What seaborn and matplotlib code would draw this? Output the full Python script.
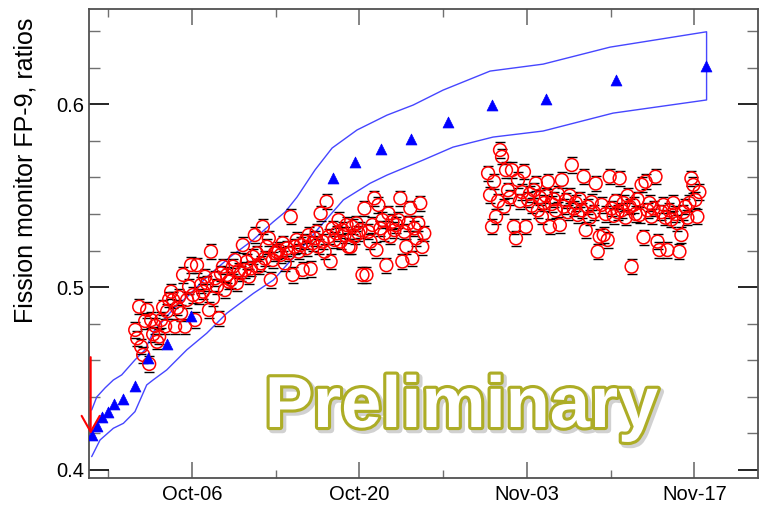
import numpy as np
import pandas as pd
import matplotlib
matplotlib.use("Agg")
import matplotlib.pyplot as plt
import matplotlib.dates as mdates
import matplotlib.patheffects as pe
from matplotlib.patches import ArrowStyle
import seaborn as sns

sns.set_style("white")
plt.rcParams["font.family"] = ["Liberation Sans", "DejaVu Sans"]
plt.rcParams["text.color"] = "black"
plt.rcParams["xtick.labelcolor"] = "black"
plt.rcParams["ytick.labelcolor"] = "black"

REF_DAY = pd.Timestamp("2012-10-06")

# Measured FP-9 ratios, one value every 4 hours
run1_start = "2012-10-01 06:00"
run1_ratio = [
    0.4766, 0.4720, 0.4893, 0.4674, 0.4629, 0.4815,
    0.4875, 0.4580, 0.4820, 0.4742, 0.4788, 0.4701,
    0.4729, 0.4820, 0.4890, 0.4785, 0.4868, 0.4932,
    0.4975, 0.4930, 0.4784, 0.4887, 0.4946, 0.4858,
    0.5067, 0.4784, 0.4930, 0.5003, 0.5121, 0.4957,
    0.4820, 0.5120, 0.4948, 0.5012, 0.4975, 0.5057,
    0.5021, 0.4875, 0.5194, 0.4939, 0.5048, 0.5003,
    0.4830, 0.5075, 0.5112, 0.4984, 0.5066, 0.5030,
    0.5039, 0.5112, 0.5148, 0.5021, 0.5090, 0.5075,
    0.5230, 0.5094, 0.5139, 0.5057, 0.5102, 0.5166,
    0.5285, 0.5185, 0.5112, 0.5130, 0.5330, 0.5157,
    0.5221, 0.5267, 0.5040, 0.5148, 0.5185, 0.5194,
    0.5203, 0.5176, 0.5240, 0.5130, 0.5212, 0.5185,
    0.5385, 0.5067, 0.5221, 0.5258, 0.5194, 0.5230,
    0.5094, 0.5249, 0.5212, 0.5285, 0.5100, 0.5240,
    0.5267, 0.5303, 0.5221, 0.5403, 0.5249, 0.5194,
    0.5467, 0.5276, 0.5140, 0.5321, 0.5258, 0.5294,
    0.5367, 0.5249, 0.5312, 0.5285, 0.5340, 0.5221,
    0.5221, 0.5330, 0.5276, 0.5349, 0.5294, 0.5312,
    0.5067, 0.5430, 0.5067, 0.5303, 0.5249, 0.5340,
    0.5486, 0.5203, 0.5449, 0.5321, 0.5367, 0.5294,
    0.5120, 0.5403, 0.5276, 0.5358, 0.5312, 0.5340,
    0.5367, 0.5486, 0.5140, 0.5303, 0.5221, 0.5349,
    0.5431, 0.5158, 0.5321, 0.5267, 0.5349, 0.5459,
    0.5220, 0.5294,
]
run2_start = "2012-10-30 18:00"
run2_ratio = [
    0.5623, 0.5504, 0.5330, 0.5577, 0.5385, 0.5470,
    0.5750, 0.5713, 0.5440, 0.5640, 0.5530, 0.5490,
    0.5640, 0.5330, 0.5267, 0.5586, 0.5470, 0.5520,
    0.5631, 0.5330, 0.5480, 0.5510, 0.5445, 0.5530,
    0.5567, 0.5420, 0.5490, 0.5385, 0.5460, 0.5500,
    0.5577, 0.5330, 0.5455, 0.5480, 0.5420, 0.5510,
    0.5340, 0.5586, 0.5440, 0.5475, 0.5410, 0.5500,
    0.5668, 0.5430, 0.5460, 0.5395, 0.5480, 0.5420,
    0.5604, 0.5312, 0.5440, 0.5380, 0.5465, 0.5410,
    0.5567, 0.5194, 0.5276, 0.5450, 0.5285, 0.5400,
    0.5258, 0.5604, 0.5430, 0.5390, 0.5470, 0.5410,
    0.5595, 0.5420, 0.5460, 0.5380, 0.5500, 0.5440,
    0.5112, 0.5450, 0.5400, 0.5480, 0.5395, 0.5560,
    0.5272, 0.5577, 0.5420, 0.5460, 0.5385, 0.5430,
    0.5604, 0.5249, 0.5203, 0.5410, 0.5450, 0.5380,
    0.5203, 0.5420, 0.5370, 0.5460, 0.5400, 0.5350,
    0.5194, 0.5285, 0.5410, 0.5440, 0.5380, 0.5460,
    0.5595, 0.5559, 0.5477, 0.5385, 0.5520,
]
ratio_err = 0.0042

# Predicted ratios (days relative to Oct-06)
pred_day = [-8.39, -7.97, -7.55, -7.00, -6.50, -5.79, -4.77, -3.65, -2.09,
            -0.08, 11.75, 13.63, 15.80, 18.31, 21.38, 25.06, 29.60, 35.43, 42.98]
pred_ratio = [0.4191, 0.4238, 0.4288, 0.4319, 0.4361, 0.4388, 0.4459, 0.4611,
              0.4687, 0.4844, 0.5595, 0.5683, 0.5754, 0.5810, 0.5902, 0.5997,
              0.6031, 0.6133, 0.6209]

# Prediction uncertainty band (days relative to Oct-06)
upper_day = [-8.39, -7.97, -7.27, -6.58, -5.88, -4.77, -3.93, -3.24, -1.42,
             -0.42, 1.25, 3.18, 5.10, 6.77, 7.78, 8.78, 10.28, 11.71, 13.80,
             16.30, 18.48, 20.99, 24.92, 29.35, 34.95, 43.02]
upper_ratio = [0.4328, 0.4399, 0.4449, 0.4492, 0.4520, 0.4602, 0.4657, 0.4755,
               0.4891, 0.4946, 0.5056, 0.5165, 0.5258, 0.5356, 0.5411, 0.5493,
               0.5641, 0.5761, 0.5860, 0.5941, 0.5996, 0.6078, 0.6182, 0.6220,
               0.6313, 0.6397]
lower_day = [-8.39, -7.69, -6.58, -5.74, -4.77, -3.79, -3.24, -2.12, -0.44,
             1.23, 2.90, 5.13, 6.80, 9.03, 10.70, 12.65, 14.88, 16.30, 19.31,
             21.82, 25.17, 29.35, 35.20, 43.02]
lower_ratio = [0.4073, 0.4164, 0.4228, 0.4255, 0.4319, 0.4465, 0.4493, 0.4547,
               0.4657, 0.4748, 0.4857, 0.4966, 0.5039, 0.5203, 0.5331, 0.5477,
               0.5568, 0.5613, 0.5695, 0.5766, 0.5821, 0.5854, 0.5952, 0.6024]


def to_time(days):
    return REF_DAY + pd.to_timedelta(np.asarray(days, dtype=float), unit="D")


meas = pd.concat([
    pd.DataFrame({"time": pd.date_range(run1_start, periods=len(run1_ratio), freq="4h"),
                  "ratio": run1_ratio}),
    pd.DataFrame({"time": pd.date_range(run2_start, periods=len(run2_ratio), freq="4h"),
                  "ratio": run2_ratio}),
], ignore_index=True)

pred = pd.DataFrame({"time": to_time(pred_day), "ratio": pred_ratio})

# upper edge left->right, closing segment, lower edge right->left
band = pd.DataFrame({
    "time": np.concatenate([to_time(upper_day), to_time(lower_day[::-1])]),
    "ratio": upper_ratio + lower_ratio[::-1],
})

fig = plt.figure(figsize=(7.59, 5.05), dpi=100)
ax = fig.add_axes([0.1177, 0.0535, 0.8810, 0.9281])

sns.lineplot(data=band, x="time", y="ratio", sort=False, estimator=None,
             color="#4646ff", linewidth=1.0, ax=ax, zorder=2)
# error bars show only their caps; the stem sits inside the open circle
ax.errorbar(meas["time"], meas["ratio"], yerr=ratio_err, fmt="none",
            ecolor="black", elinewidth=0, capsize=3.5, capthick=1.0, zorder=3)
sns.scatterplot(data=meas, x="time", y="ratio", marker="o", s=85,
                facecolor="none", edgecolor="#ff0000", linewidth=1.1,
                ax=ax, zorder=4)
sns.scatterplot(data=pred, x="time", y="ratio", marker="^", s=62,
                color="#0000ff", edgecolor="#0000ff", linewidth=0.5,
                ax=ax, zorder=5)

ax.set_xlim(mdates.date2num(to_time([-8.587])[0]), mdates.date2num(to_time([47.32])[0]))
ax.set_ylim(0.3956, 0.652)

ax.set_xticks(pd.date_range("2012-10-06", periods=4, freq="14D"))
ax.set_xticks(pd.date_range("2012-09-29", periods=4, freq="14D"), minor=True)
ax.xaxis.set_major_formatter(mdates.DateFormatter("%b-%d"))
ax.set_yticks([0.4, 0.5, 0.6])
ax.set_yticklabels(["0.4", "0.5", "0.6"])
ax.set_yticks(np.arange(0.42, 0.651, 0.02), minor=True)

ax.tick_params(axis="y", which="major", direction="in", length=14.4, width=1.2,
               color="black", left=True, right=True, labelsize=14.5, pad=4,
               labelcolor="black")
ax.tick_params(axis="y", which="minor", direction="in", length=7.8, width=1.0,
               color="#707070", left=True, right=True)
ax.tick_params(axis="x", which="major", direction="in", length=11.5, width=1.2,
               color="#707070", top=True, bottom=True, labelsize=14.5, pad=5,
               labelcolor="black")
ax.tick_params(axis="x", which="minor", direction="in", length=6, width=1.0,
               color="#707070", top=True, bottom=True)
for sp in ax.spines.values():
    sp.set_visible(True)
    sp.set_color("#505050")
    sp.set_linewidth(1.3)

ax.set_xlabel("")
ax.set_ylabel("Fission monitor FP-9, ratios", fontsize=18, color="black")
ax.yaxis.set_label_coords(-0.077, 0.656)

# arrow marking the start of the cycle
ax.annotate("", xy=(0.002, 0.4197), xytext=(0.002, 0.4617),
            xycoords=("axes fraction", "data"), textcoords=("axes fraction", "data"),
            arrowprops=dict(arrowstyle=ArrowStyle("->", head_length=1.15, head_width=0.65),
                            mutation_scale=10, color="#ff0000", lw=1.5,
                            shrinkA=0, shrinkB=0),
            annotation_clip=False, zorder=6)

ax.text(0.5566, 0.1088, "Preliminary", transform=ax.transAxes,
        ha="center", va="baseline", fontsize=52, fontweight="bold", color="white",
        zorder=7,
        path_effects=[pe.Stroke(offset=(2, -2), linewidth=5, foreground="#9a9a9a", alpha=0.45),
                      pe.Stroke(linewidth=4.5, foreground="#adad26"),
                      pe.Normal()])

fig.savefig("out.png", dpi=100)
